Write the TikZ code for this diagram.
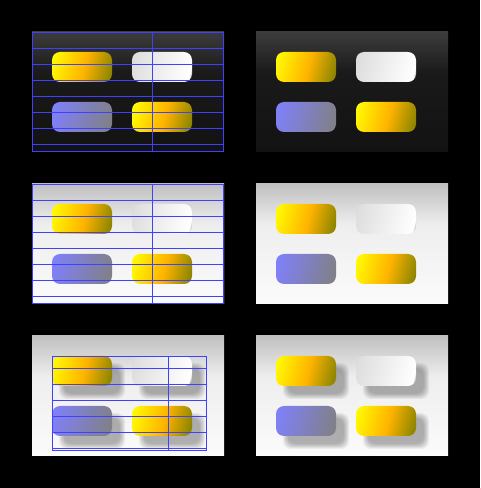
\documentclass[tikz,border=0pt]{standalone}
\definecolor{btnorange}{RGB}{255,180,0}
\definecolor{btnolive}{RGB}{128,128,0}
\definecolor{btnblue}{RGB}{128,128,255}
\definecolor{btngrey}{RGB}{128,128,128}
\definecolor{btnlight}{RGB}{220,220,220}
\definecolor{btnsilver}{RGB}{200,200,200}
\definecolor{bgdarktop}{RGB}{60,60,60}
\definecolor{bgdarkmid}{RGB}{26,26,26}
\definecolor{bgdarkbot}{RGB}{18,18,18}
\definecolor{bglighttop}{RGB}{192,192,192}
\definecolor{bglightmid}{RGB}{238,238,238}
\definecolor{bglightbot}{RGB}{251,251,251}
\definecolor{gridblue}{RGB}{64,64,255}
\pgfdeclarehorizontalshading{yellowbtn}{100bp}{color(0bp)=(yellow); color(19.7bp)=(yellow); color(52bp)=(btnorange); color(80.3bp)=(btnolive); color(100bp)=(btnolive)}
\pgfdeclarehorizontalshading{bluebtn}{100bp}{color(0bp)=(btnblue); color(19.7bp)=(btnblue); color(80.3bp)=(btngrey); color(100bp)=(btngrey)}
\pgfdeclarehorizontalshading{whitebtn}{100bp}{color(0bp)=(btnlight); color(19.7bp)=(btnlight); color(76.5bp)=(white); color(78bp)=(btnsilver); color(100bp)=(btnsilver)}
\pgfdeclareverticalshading{darkbg}{100bp}{color(0bp)=(bgdarkbot); color(25bp)=(bgdarkbot); color(58bp)=(bgdarkmid); color(75bp)=(bgdarktop); color(100bp)=(bgdarktop)}
\pgfdeclareverticalshading{lightbg}{100bp}{color(0bp)=(bglightbot); color(25bp)=(bglightbot); color(58bp)=(bglightmid); color(75bp)=(bglighttop); color(100bp)=(bglighttop)}
\begin{document}
\begin{tikzpicture}[x=1pt,y=1pt,
	gridline/.style={draw=gridblue,line width=1.2pt},
	button/.style={shading angle=-14,rounded corners=8pt},
	shadowlayer/.style={fill=black,opacity=.055,rounded corners=8pt}]
				\fill[black] (0,0) rectangle (480,488);
				\path (32,456) coordinate (P1) (256,456) coordinate (P2)
				(32,304) coordinate (P3) (256,304) coordinate (P4)
				(32,152) coordinate (P5) (256,152) coordinate (P6);
				\foreach \p/\bg/\sh in {P1/darkbg/0, P2/darkbg/0, P3/lightbg/0, P4/lightbg/0, P5/lightbg/1, P6/lightbg/1}{
					\begin{scope}[shift={(\p)}]
						\shade[shading=\bg] (0,0) rectangle (192,-120);
						\ifnum\sh=1
						\foreach \bx/\by in {20/20, 100/20, 20/70, 100/70}
						\foreach \r in {-2,...,3}
						\fill[shadowlayer] (\bx+10-\r,-\by-10+\r) rectangle (\bx+70+\r,-\by-40-\r);
						\fi
						\foreach \bx/\by/\kind in {20/20/yellowbtn, 100/20/whitebtn, 20/70/bluebtn, 100/70/yellowbtn}
						\shade[button,shading=\kind] (\bx,-\by) rectangle ++(60,-30);
					\end{scope}
				}
				\foreach \p in {P1,P3}{
					\begin{scope}[shift={(\p)},shift={(.5,-.5)}]
						\draw[gridline] (0,0) rectangle (191,-119);
						\draw[gridline,xstep=120,ystep=16] (0,-119) grid (191,0);
					\end{scope}
				}
				\begin{scope}[shift={(P5)},shift={(.5,-.5)}]
					\draw[gridline] (20,-20) rectangle (174,-114) (136,-20) -- (136,-114);
					\draw[gridline] \foreach \k in {2,...,7}{(20,-16*\k) -- (174,-16*\k)};
				\end{scope}
			\end{tikzpicture}
\end{document}
